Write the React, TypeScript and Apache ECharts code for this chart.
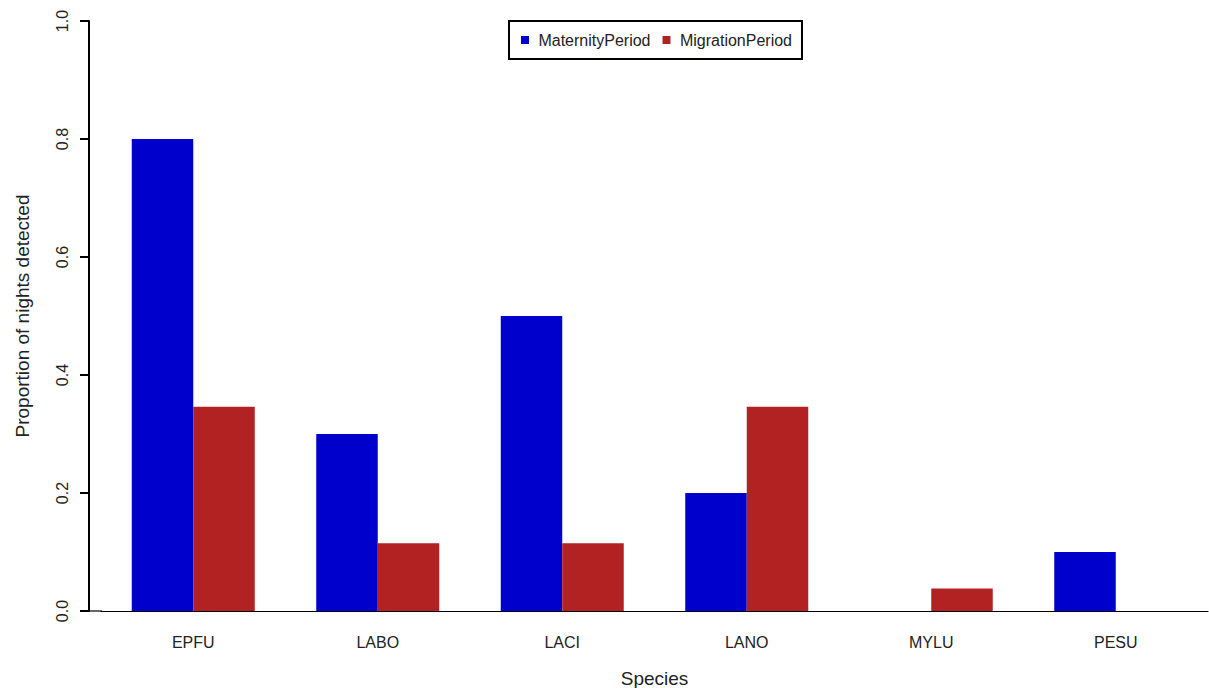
import React, { useEffect, useRef } from "react";
import * as echarts from "echarts";

const species = ["EPFU", "LABO", "LACI", "LANO", "MYLU", "PESU"];
const maternity = [0.8, 0.3, 0.5, 0.2, 0, 0.1];
const migration = [0.346, 0.115, 0.115, 0.346, 0.038, 0];
const yTicks = [0, 0.2, 0.4, 0.6, 0.8, 1.0];
const seriesNames = ["MaternityPeriod", "MigrationPeriod"];
const colors = ["#0000CD", "#B22222"];

export default function App() {
  const ref = useRef<HTMLDivElement>(null);
  useEffect(() => {
    document.body.style.margin = "0";
    const chart = echarts.init(ref.current!, null, { renderer: "svg" });
    const font = "'Liberation Sans', Arial, Helvetica, sans-serif";
    chart.setOption({
      animation: false,
      textStyle: { fontFamily: font },
      grid: {
        left: 101,
        right: 1,
        top: 21,
        bottom: 77,
        containLabel: false,
        outerBoundsMode: "none",
      },
      legend: {
        data: seriesNames,
        left: 509,
        top: 21,
        orient: "horizontal",
        icon: "rect",
        itemWidth: 8,
        itemHeight: 8,
        itemGap: 12,
        padding: [11, 10, 11, 12],
        borderColor: "#000",
        borderWidth: 2,
        formatter: (n: string) => " " + n,
        textStyle: { fontSize: 16, color: "#222", fontFamily: font },
      },
      xAxis: {
        type: "category",
        data: species,
        name: "Species",
        nameLocation: "middle",
        nameGap: 58,
        nameTextStyle: { fontSize: 19, color: "#222", fontFamily: font },
        axisLine: { show: true, lineStyle: { color: "#000", width: 1.2 } },
        axisTick: { show: false },
        axisLabel: { fontSize: 16, color: "#222", margin: 23, fontFamily: font },
      },
      yAxis: {
        type: "value",
        min: 0,
        max: 1,
        interval: 0.2,
        offset: 12,
        name: "Proportion of nights detected",
        nameLocation: "middle",
        nameRotate: 90,
        nameGap: 57,
        nameTextStyle: { fontSize: 19, color: "#222", fontFamily: font },
        splitLine: { show: false },
        axisLine: { show: true, lineStyle: { color: "#000", width: 2 } },
        axisTick: { show: true, length: 9, lineStyle: { color: "#000", width: 2 } },
        axisLabel: {
          rotate: 90,
          fontSize: 16,
          color: "#222",
          margin: 19,
          fontFamily: font,
          formatter: (v: number) => {
            const t = yTicks.find((x) => Math.abs(x - v) < 1e-9);
            return (t ?? v).toFixed(1);
          },
        },
      },
      series: [
        {
          name: seriesNames[0],
          type: "bar",
          data: maternity,
          barWidth: 61.5,
          barGap: "0%",
          itemStyle: { color: colors[0] },
        },
        {
          name: seriesNames[1],
          type: "bar",
          data: migration,
          barWidth: 61.5,
          barGap: "0%",
          itemStyle: { color: colors[1] },
        },
      ],
    });
    const y0 = chart.convertToPixel({ yAxisIndex: 0 }, 0) as number;
    const x0 = chart.convertToPixel({ xAxisIndex: 0 }, species[0]) as number;
    const axisX = x0 - 92.25 - 12;
    chart.setOption({
      graphic: [
        {
          type: "line",
          shape: { x1: axisX, y1: y0, x2: axisX + 13, y2: y0 },
          style: { stroke: "#000", lineWidth: 1.2 },
        },
      ],
    });
    return () => chart.dispose();
  }, []);
  return <div ref={ref} style={{ width: 1209, height: 688 }} />;
}
